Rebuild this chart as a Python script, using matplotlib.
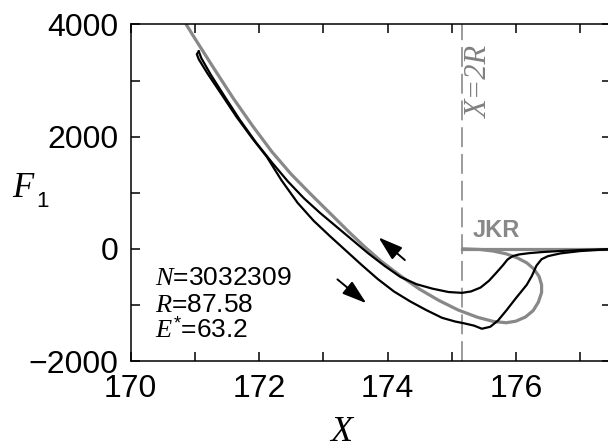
import matplotlib
matplotlib.use("Agg")
import matplotlib.pyplot as plt
from matplotlib.ticker import MultipleLocator

plt.rcParams['mathtext.fontset'] = 'custom'
plt.rcParams['mathtext.it'] = 'Liberation Serif:italic'
plt.rcParams['mathtext.rm'] = 'Liberation Sans'
plt.rcParams['mathtext.sf'] = 'Liberation Sans'

# ---- data ----
# JKR theory curve (gray), from the top-left end round the loop to X=2R
jkr_x = [170.86, 171.00, 171.30, 171.60, 171.90, 172.20, 172.50, 172.80, 173.10,
         173.40, 173.65, 173.90, 174.20, 174.50, 174.80, 175.10, 175.40, 175.65,
         175.85, 176.00, 176.15, 176.27, 176.35, 176.40, 176.40, 176.36, 176.28,
         176.17, 176.02, 175.85, 175.65, 175.45, 175.16]
jkr_f = [4010, 3750, 3210, 2680, 2190, 1730, 1330, 980, 640,
         300, 30, -220, -480, -720, -920, -1090, -1220, -1295,
         -1318, -1290, -1215, -1100, -950, -780, -640, -490, -360,
         -250, -160, -90, -40, -12, 0]
# non-contact branch F=0 beyond X=2R
free_x = [175.16, 177.48]
free_f = [0, 0]

# simulation: approach branch (right -> left)
app_x = [177.48, 177.30, 177.00, 176.70, 176.40, 176.20, 176.05, 175.95, 175.87,
         175.80, 175.70, 175.58, 175.45, 175.30, 175.16, 174.95, 174.70, 174.45,
         174.20, 173.95, 173.70, 173.45, 173.20, 172.95, 172.70, 172.45, 172.20,
         171.95, 171.70, 171.45, 171.25, 171.10, 171.06]
app_f = [-5, -12, -22, -38, -58, -78, -100, -130, -190,
         -290, -420, -570, -690, -760, -785, -770, -710, -630,
         -500, -300, -80, 160, 400, 640, 900, 1200, 1540,
         1900, 2300, 2740, 3100, 3400, 3520]
# simulation: retraction branch (left -> right)
ret_x = [171.06, 171.03, 171.06, 171.20, 171.40, 171.65, 171.90, 172.12, 172.35,
         172.60, 172.85, 173.10, 173.35, 173.60, 173.85, 174.10, 174.35, 174.60,
         174.85, 175.05, 175.20, 175.35, 175.47, 175.60, 175.72, 175.85, 176.00,
         176.17, 176.25, 176.32, 176.40, 176.50, 176.70, 177.00, 177.30, 177.48]
ret_f = [3520, 3470, 3380, 3120, 2780, 2350, 1960, 1640, 1220,
         820, 500, 230, -30, -290, -540, -760, -935, -1090,
         -1230, -1295, -1330, -1370, -1425, -1390, -1280, -1100, -880,
         -640, -480, -300, -185, -130, -80, -40, -18, -8]

x2r = 175.16
params = [r'$N$=3032309', r'$R$=87.58', r'$E^{*}$=63.2']

gray = '#888888'

fig = plt.figure(figsize=(6.08, 4.48), dpi=100)
ax = fig.add_axes([130.7/608, 87/448, (611-130.7)/608, (361-24.5)/448])

ax.axvline(x2r, color='#808080', lw=1.1, dashes=(13, 4.5))
ax.plot(jkr_x, jkr_f, color=gray, lw=2.3, solid_capstyle='butt',
        solid_joinstyle='round')
ax.plot(free_x, free_f, color=gray, lw=2.3)
ax.plot(app_x, app_f, color='black', lw=1.6, solid_joinstyle='round')
ax.plot(ret_x, ret_f, color='black', lw=1.6, solid_joinstyle='round')

arrow_kw = dict(arrowstyle='-|>,head_length=0.75,head_width=0.24',
                mutation_scale=20, color='black', lw=1.4,
                shrinkA=0, shrinkB=0)
ax.annotate('', xy=(173.86, 205), xytext=(174.27, -200), arrowprops=arrow_kw)
ax.annotate('', xy=(173.67, -970), xytext=(173.22, -545), arrowprops=arrow_kw)

ax.set_xlim(170, 170 + (611-130.7)/64.2)
ax.set_ylim(-2000, 4000)
ax.xaxis.set_major_locator(MultipleLocator(2))
ax.xaxis.set_minor_locator(MultipleLocator(1))
ax.yaxis.set_major_locator(MultipleLocator(2000))
ax.yaxis.set_minor_locator(MultipleLocator(1000))
ax.tick_params(which='both', direction='in', top=True, right=True,
               length=6.5, width=1.1)
ax.tick_params(which='major', labelsize=23, pad=9)
for lab in ax.get_xticklabels() + ax.get_yticklabels():
    lab.set_family('Liberation Sans')
for s in ax.spines.values():
    s.set_linewidth(1.1)

ax.text(175.44, 2967, 'X=2R', rotation=90, ha='center', va='center',
        color='#808080', fontsize=22, family='Liberation Serif', style='italic')
ax.text(175.33, 212, 'JKR', ha='left', va='baseline', color=gray,
        fontsize=17, family='Liberation Sans', weight='bold')

for i, t in enumerate(params):
    fig.text(155/608, 1 - (285 + 26.5*i)/448, t, ha='left', va='baseline',
             fontsize=19, family='Liberation Sans')

fig.text(12/608, 1 - 197/448, 'F', ha='left', va='baseline', fontsize=25,
         family='Liberation Serif', style='italic')
fig.text(36/608, 1 - 207/448, '1', ha='left', va='baseline', fontsize=16,
         family='Liberation Sans')
fig.text(341/608, 1 - 441/448, 'X', ha='center', va='baseline', fontsize=26,
         family='Liberation Serif', style='italic')

fig.savefig('out.png', dpi=100)
